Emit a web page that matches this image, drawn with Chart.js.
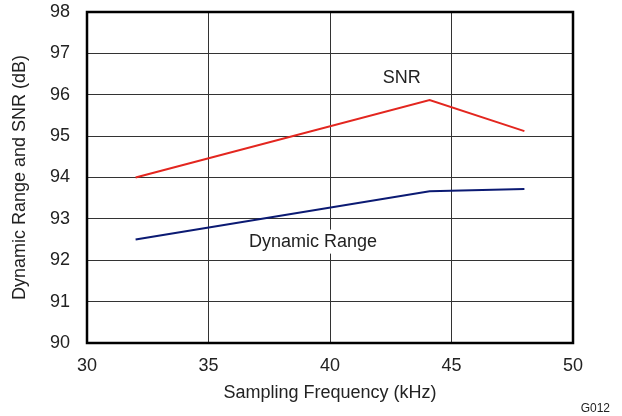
<!DOCTYPE html>
<html>
<head>
<meta charset="utf-8">
<script src="https://cdn.jsdelivr.net/npm/chart.js@4"></script>
<style>
  html, body { margin: 0; padding: 0; background: #fff; }
  #wrap { width: 622px; height: 416px; position: relative; }
</style>
</head>
<body>
<div id="wrap"><canvas id="snrChart"></canvas></div>
<script>
// データ
const freqs = [32, 44.1, 48];
const snrValues = [94.0, 95.87, 95.12];
const dynRangeValues = [92.5, 93.67, 93.72];
const xTicks = [30, 35, 40, 45, 50];
const yTicks = [90, 91, 92, 93, 94, 95, 96, 97, 98];

const FONT = 'Liberation Sans, Arial, sans-serif';

// 曲線ラベルと枠線
const labelPlugin = {
  id: 'labels',
  afterDatasetsDraw(chart) {
    const { ctx, chartArea, scales } = chart;
    ctx.save();
    ctx.font = '18px ' + FONT;
    ctx.fillStyle = '#222';
    ctx.textAlign = 'center';
    ctx.textBaseline = 'middle';

    // SNR
    ctx.fillText('SNR', scales.x.getPixelForValue(42.95), scales.y.getPixelForValue(96.4));

    // Dynamic Range (白背景)
    const dx = scales.x.getPixelForValue(39.3);
    const dy = scales.y.getPixelForValue(92.45);
    const w = ctx.measureText('Dynamic Range').width;
    ctx.fillStyle = '#fff';
    ctx.fillRect(dx - w / 2 - 3, dy - 12, w + 6, 24);
    ctx.fillStyle = '#222';
    ctx.fillText('Dynamic Range', dx, dy);

    // 枠
    ctx.strokeStyle = '#000';
    ctx.lineWidth = 2.5;
    ctx.strokeRect(chartArea.left, chartArea.top, chartArea.right - chartArea.left, chartArea.bottom - chartArea.top);

    // 図番号
    ctx.font = '12px ' + FONT;
    ctx.textAlign = 'right';
    ctx.fillText('G012', 610, 409);
    ctx.restore();
  }
};

new Chart(document.getElementById('snrChart'), {
  type: 'line',
  data: {
    datasets: [
      {
        label: 'SNR',
        data: freqs.map((f, i) => ({ x: f, y: snrValues[i] })),
        borderColor: '#e3261f',
        borderWidth: 2,
        pointRadius: 0,
        tension: 0
      },
      {
        label: 'Dynamic Range',
        data: freqs.map((f, i) => ({ x: f, y: dynRangeValues[i] })),
        borderColor: '#0b1a73',
        borderWidth: 2,
        pointRadius: 0,
        tension: 0
      }
    ]
  },
  options: {
    responsive: true,
    maintainAspectRatio: false,
    animation: false,
    layout: { padding: { top: 12, right: 49, left: 0, bottom: 0 } },
    plugins: {
      legend: { display: false },
      tooltip: { enabled: false }
    },
    scales: {
      x: {
        type: 'linear',
        min: 30,
        max: 50,
        afterBuildTicks: s => { s.ticks = xTicks.map(v => ({ value: v })); },
        afterFit: s => { s.height = 73; s.paddingLeft = 0; s.paddingRight = 0; },
        grid: { color: '#333', lineWidth: 1, drawTicks: false },
        border: { display: false },
        ticks: { color: '#222', font: { family: FONT, size: 18 }, padding: 12 },
        title: {
          display: true,
          text: 'Sampling Frequency (kHz)',
          color: '#222',
          font: { family: FONT, size: 18 },
          padding: { top: 0, bottom: 12 }
        }
      },
      y: {
        min: 90,
        max: 98,
        afterBuildTicks: s => { s.ticks = yTicks.map(v => ({ value: v })); },
        afterFit: s => { s.width = 87; s.paddingTop = 0; s.paddingBottom = 0; },
        grid: { color: '#333', lineWidth: 1, drawTicks: false },
        border: { display: false },
        ticks: { color: '#222', font: { family: FONT, size: 18 }, padding: 17 },
        title: {
          display: true,
          text: 'Dynamic Range and SNR (dB)',
          color: '#222',
          font: { family: FONT, size: 18 },
          padding: { top: 9, bottom: 0 }
        }
      }
    }
  },
  plugins: [labelPlugin]
});
</script>
</body>
</html>
